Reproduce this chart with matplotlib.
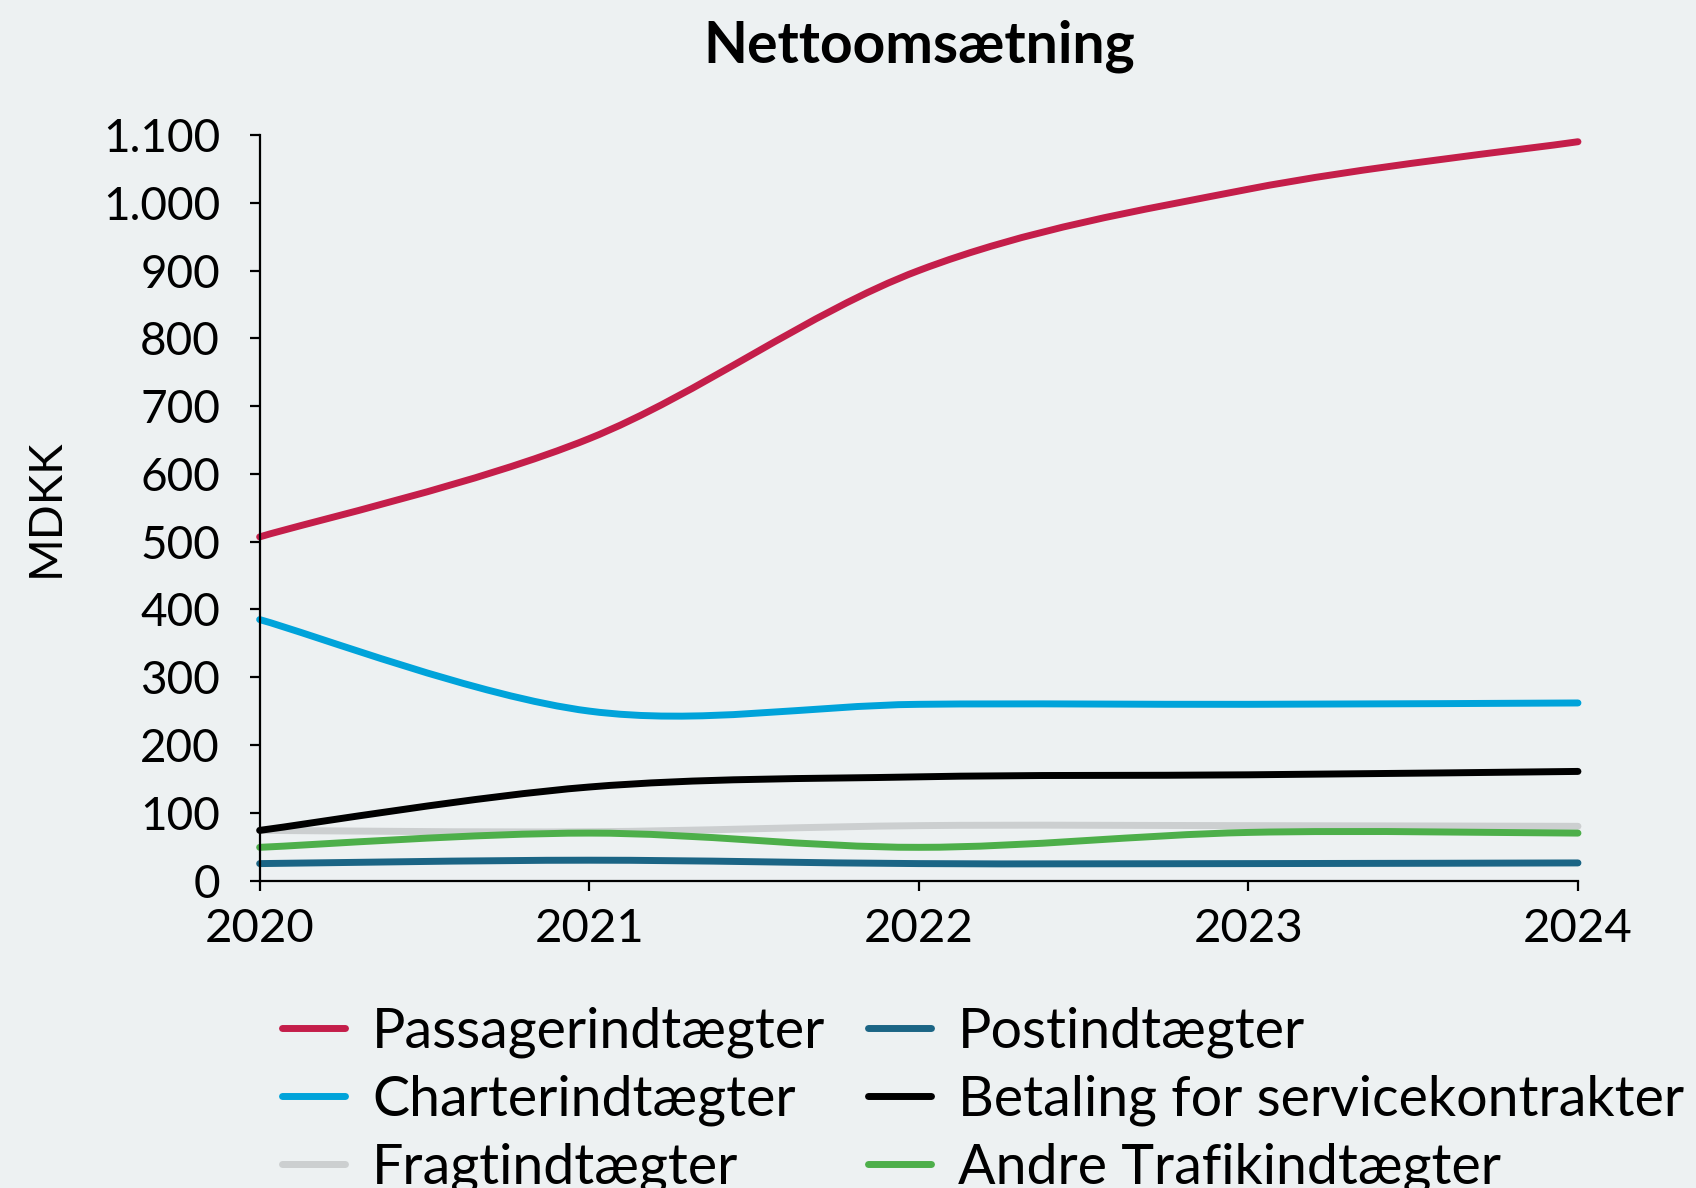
import matplotlib
matplotlib.use("Agg")
import matplotlib.pyplot as plt
import numpy as np
from matplotlib.path import Path
from matplotlib.patches import PathPatch
from matplotlib.lines import Line2D
from matplotlib.ticker import FuncFormatter

years = [2020, 2021, 2022, 2023, 2024]
passager = [507, 652, 900, 1020, 1090]
charter = [385, 250, 260, 260, 262]
fragt = [74, 72, 81, 81, 80]
post = [25, 30, 25, 25, 26]
betaling = [74, 138, 153, 156, 161]
andre = [49, 70, 49, 71, 70]

labels = ["Passagerindtægter", "Charterindtægter", "Fragtindtægter",
          "Postindtægter", "Betaling for servicekontrakter", "Andre Trafikindtægter"]
series = [passager, charter, fragt, post, betaling, andre]
colors = ["#C41E4A", "#00A3DA", "#CCCFD0", "#1B6585", "#000000", "#4DAF4A"]

bg = "#EDF1F2"
plt.rcParams['font.family'] = ['Lato', 'DejaVu Sans']

fig = plt.figure(figsize=(16.96, 11.88), dpi=100, facecolor=bg)
ax = fig.add_axes([0.1531, 0.2588, 0.9304 - 0.1531, 0.8864 - 0.2588])
ax.set_facecolor(bg)


def smooth_path(x, y):
    x = np.asarray(x, float)
    y = np.asarray(y, float)
    P = np.column_stack([x, y])
    n = len(P)
    verts = [P[0]]
    codes = [Path.MOVETO]
    for i in range(n - 1):
        p0 = P[i - 1] if i > 0 else P[i]
        p1 = P[i]
        p2 = P[i + 1]
        p3 = P[i + 2] if i + 2 < n else P[i + 1]
        c1 = p1 + (p2 - p0) / 6.0
        c2 = p2 - (p3 - p1) / 6.0
        verts += [c1, c2, p2]
        codes += [Path.CURVE4] * 3
    return Path(np.array(verts), codes)


lw = 5
handles = []
for vals, col, lab in zip(series, colors, labels):
    patch = PathPatch(smooth_path(years, vals), facecolor='none', edgecolor=col,
                      lw=lw, capstyle='round', joinstyle='round',
                      transform=ax.transData, clip_on=False)
    ax.add_patch(patch)
    handles.append(Line2D([], [], color=col, lw=lw, solid_capstyle='round', label=lab))

ax.set_xlim(2020, 2024)
ax.set_ylim(0, 1100)
ax.set_xticks(years)
ax.set_yticks(np.arange(0, 1101, 100))
ax.yaxis.set_major_formatter(FuncFormatter(lambda v, p: f"{int(v):,}".replace(",", ".")))

for s in ["top", "right"]:
    ax.spines[s].set_visible(False)
for s in ["left", "bottom"]:
    ax.spines[s].set_linewidth(1.6)
    ax.spines[s].set_color("black")
ax.tick_params(axis='both', direction='out', length=7.5, width=1.6, colors='black')
ax.tick_params(axis='y', pad=21, labelsize=33)
ax.tick_params(axis='x', pad=12, labelsize=34)

ax.set_ylabel("MDKK", fontsize=33, labelpad=26)
ax.set_title("Nettoomsætning", fontsize=41, fontweight='bold', pad=52)

fig.legend(handles=handles, ncol=2, loc='upper left', bbox_to_anchor=(0.1664, 0.1529),
           frameon=False, fontsize=40, handlelength=1.13, handletextpad=0.49,
           columnspacing=0.77, labelspacing=0.3, borderpad=0, borderaxespad=0)

fig.savefig("out.png", dpi=100, facecolor=bg)
